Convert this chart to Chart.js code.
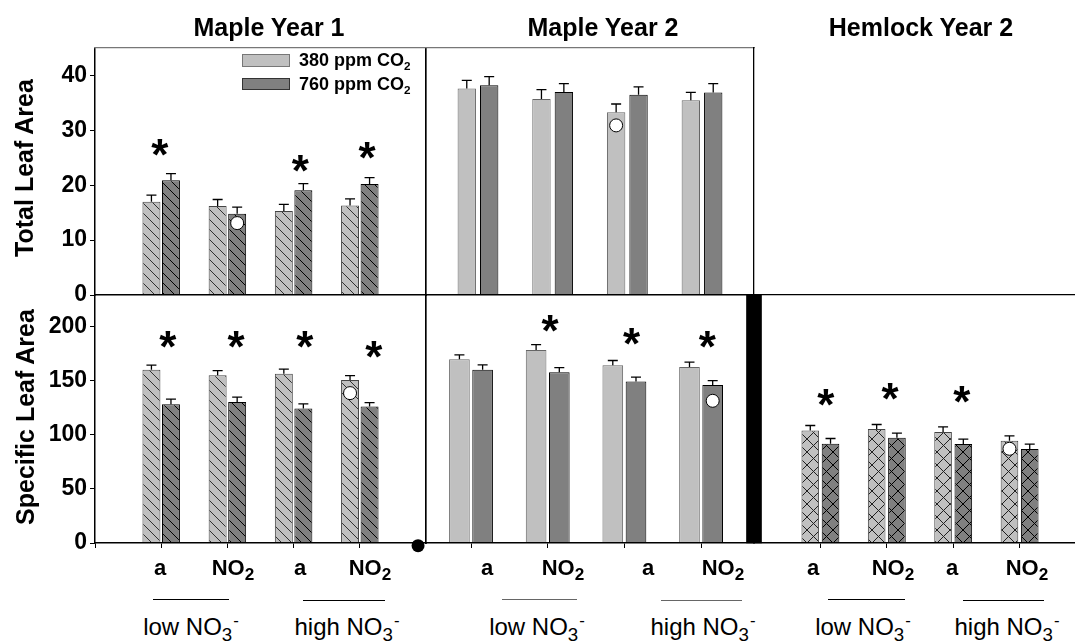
<!DOCTYPE html>
<html><head><meta charset="utf-8">
<script src="https://cdn.jsdelivr.net/npm/chart.js@4.4.0/dist/chart.umd.min.js"></script>
<style>
html,body{margin:0;padding:0;background:#fff;overflow:hidden;}
#stage{position:relative;width:1075px;height:642px;overflow:hidden;font-family:'Liberation Sans',Arial,sans-serif;color:#000;}
#stage canvas{position:absolute;}
.t{position:absolute;transform:translate(-50%,-50%);white-space:nowrap;line-height:1;}
.title{font-weight:bold;font-size:25px;}
.ytitle{font-weight:bold;font-size:25px;transform:translate(-50%,-50%) rotate(-90deg);}
.xa{font-weight:bold;font-size:22px;}
.xn{font-size:24px;}
.sub{position:relative;top:.32em;font-size:.78em;}
.sub2{position:relative;top:.3em;font-size:.65em;}
.sup{position:relative;top:-.55em;font-size:.7em;margin-left:1px;}
.hl{position:absolute;height:0;border-top:1.5px solid #000;}
.lg{position:absolute;font-weight:bold;font-size:18px;line-height:1;transform:translateY(-50%);white-space:nowrap;}
.sw{position:absolute;box-sizing:border-box;border:1px solid;}
</style></head><body><div id="stage"></div>
<script>
// ---------------- data ----------------
const groups = [1, 2, 3, 4];
const tlaTicks = [0, 10, 20, 30, 40];
const slaTicks = [0, 50, 100, 150, 200];
const tlaMax = 45;
const slaMax = 229;
const seriesNames = ['380 ppm CO', '760 ppm CO'];
const panelTitles = ['Maple Year 1', 'Maple Year 2', 'Hemlock Year 2'];
const yTitles = ['Total Leaf Area', 'Specific Leaf Area'];

// Maple Year 1 - Total leaf area
const m1TlaAmb = [17.0, 16.2, 15.3, 16.3];
const m1TlaAmbErr = [1.2, 1.2, 1.2, 1.2];
const m1TlaElev = [20.9, 14.8, 19.1, 20.2];
const m1TlaElevErr = [1.2, 1.2, 1.2, 1.2];
const m1TlaStars = [{x: 0.98, y: 26.9}, {x: 3.10, y: 24.0}, {x: 4.11, y: 26.4}];
const m1TlaCircles = [{g: 2, s: 1, y: 13.1}];

// Maple Year 1 - Specific leaf area
const m1SlaAmb = [159.9, 155.0, 156.2, 150.6];
const m1SlaAmbErr = [4.3, 4.2, 4.3, 4.0];
const m1SlaElev = [128.2, 130.1, 124.2, 126.0];
const m1SlaElevErr = [4.6, 4.6, 4.3, 3.7];
const m1SlaStars = [{x: 1.10, y: 188}, {x: 2.13, y: 188}, {x: 3.17, y: 188}, {x: 4.21, y: 179}];
const m1SlaCircles = [{g: 4, s: -1, y: 138.4}];
const m1SlaDot = [{x: 4.88, y: -2.5}];

// Maple Year 2 - Total leaf area
const m2TlaAmb = [37.6, 35.7, 33.3, 35.5];
const m2TlaAmbErr = [1.5, 1.7, 1.5, 1.4];
const m2TlaElev = [38.2, 37.0, 36.5, 36.9];
const m2TlaElevErr = [1.6, 1.5, 1.4, 1.6];
const m2TlaCircles = [{g: 3, s: -1, y: 30.9}];

// Maple Year 2 - Specific leaf area
const m2SlaAmb = [169.7, 178.3, 164.2, 162.6];
const m2SlaAmbErr = [4.0, 4.9, 4.3, 4.4];
const m2SlaElev = [159.9, 157.7, 149.1, 145.8];
const m2SlaElevErr = [4.6, 4.3, 4.0, 4.2];
const m2SlaStars = [{x: 2.03, y: 203}, {x: 3.095, y: 191}, {x: 4.08, y: 187.5}];
const m2SlaCircles = [{g: 4, s: 1, y: 131.3}];

// Hemlock Year 2 - Specific leaf area
const hSlaAmb = [103.9, 105.2, 102.4, 94.4];
const hSlaAmbErr = [4.6, 4.2, 4.9, 4.6];
const hSlaElev = [91.6, 97.1, 91.3, 86.7];
const hSlaElevErr = [4.9, 4.3, 4.6, 4.6];
const hSlaStars = [{x: 1.08, y: 134.7}, {x: 2.05, y: 139.9}, {x: 3.13, y: 137.5}];
const hSlaCircles = [{g: 4, s: -1, y: 87}];

const xLabelA = 'a';
const xLabelN = 'NO';
const nitrateLabels = ['low NO', 'high NO'];

// ---------------- drawing ----------------
const FONT = "'Liberation Sans', Arial, sans-serif";
const LIGHT = '#c0c0c0', DARK = '#808080';
const stage = document.getElementById('stage');

function pattern(ctx, bg, fg, size, cross) {
  const c = document.createElement('canvas');
  c.width = c.height = size;
  const g = c.getContext('2d');
  g.fillStyle = bg; g.fillRect(0, 0, size, size);
  g.strokeStyle = fg; g.lineWidth = 1;
  g.beginPath();
  g.moveTo(-2, -2); g.lineTo(size + 2, size + 2);
  g.moveTo(-2, size - 2); g.lineTo(2, size + 2);
  g.moveTo(size - 2, -2); g.lineTo(size + 2, 2);
  if (cross) {
    g.moveTo(size + 2, -2); g.lineTo(-2, size + 2);
    g.moveTo(-2, 2); g.lineTo(2, -2);
    g.moveTo(size - 2, size + 2); g.lineTo(size + 2, size - 2);
  }
  g.stroke();
  return ctx.createPattern(c, 'repeat');
}

const zeroFit = s => { if (s.isHorizontal()) s.height = 0; else s.width = 0; };

const errPlugin = {
  id: 'errbars',
  afterDatasetsDraw(chart) {
    const ctx = chart.ctx, ys = chart.scales.y;
    chart.data.datasets.forEach((ds, di) => {
      if (!ds.errors) return;
      const meta = chart.getDatasetMeta(di);
      meta.data.forEach((el, i) => {
        const yt = ys.getPixelForValue(ds.data[i].y + ds.errors[i]);
        ctx.save();
        ctx.strokeStyle = '#000'; ctx.lineWidth = 1.3;
        ctx.beginPath();
        ctx.moveTo(el.x, el.y); ctx.lineTo(el.x, yt);
        ctx.moveTo(el.x - 5, yt); ctx.lineTo(el.x + 5, yt);
        ctx.stroke();
        ctx.restore();
      });
    });
  }
};

function starPlugin(pts) {
  return {
    id: 'stars',
    afterDraw(chart) {
      if (!pts || !pts.length) return;
      const ctx = chart.ctx, xs = chart.scales.x, ys = chart.scales.y;
      ctx.save();
      ctx.fillStyle = '#000';
      ctx.font = 'bold 44px ' + FONT;
      ctx.textAlign = 'center';
      ctx.textBaseline = 'alphabetic';
      const m = ctx.measureText('*');
      const off = (m.actualBoundingBoxAscent - m.actualBoundingBoxDescent) / 2;
      pts.forEach(p => ctx.fillText('*', xs.getPixelForValue(p.x), ys.getPixelForValue(p.y) + off));
      ctx.restore();
    }
  };
}

function panel(o) {
  const pad = Object.assign({l: 12, r: 12, t: 12, b: 12}, o.pad || {});
  const a = o.area;
  const w = a.r - a.l + pad.l + pad.r, h = a.b - a.t + pad.t + pad.b;
  const cv = document.createElement('canvas');
  cv.width = w; cv.height = h;
  cv.style.left = (a.l - pad.l) + 'px';
  cv.style.top = (a.t - pad.t) + 'px';
  cv.style.width = w + 'px'; cv.style.height = h + 'px';
  stage.appendChild(cv);
  const ctx = cv.getContext('2d');
  let fillA, fillE;
  if (o.hatch === 'diag') {
    fillA = pattern(ctx, LIGHT, '#303030', 10, false);
    fillE = pattern(ctx, DARK, '#000', 10, false);
  } else if (o.hatch === 'cross') {
    fillA = pattern(ctx, LIGHT, '#202020', 13, true);
    fillE = pattern(ctx, DARK, '#000', 13, true);
  } else { fillA = LIGHT; fillE = DARK; }
  const off = o.cat / 4;
  const datasets = [
    {type: 'bar', label: seriesNames[0], data: groups.map((g, i) => ({x: g, y: o.amb[i]})), errors: o.ambErr,
     backgroundColor: fillA, borderColor: o.ambBorder || '#444', borderWidth: 1,
     categoryPercentage: o.cat, barPercentage: o.bar},
    {type: 'bar', label: seriesNames[1], data: groups.map((g, i) => ({x: g, y: o.elev[i]})), errors: o.elevErr,
     backgroundColor: fillE, borderColor: '#000', borderWidth: 1,
     categoryPercentage: o.cat, barPercentage: o.bar},
  ];
  if (o.circles) datasets.push({type: 'scatter', order: -2, data: o.circles.map(c => ({x: c.g + c.s * off, y: c.y})),
    pointRadius: 6.5, pointBackgroundColor: '#fff', pointBorderColor: '#000', pointBorderWidth: 1, pointHoverRadius: 6.5});
  if (o.dot) datasets.push({type: 'scatter', order: -1, clip: false, data: o.dot,
    pointRadius: 6.5, pointBackgroundColor: '#000', pointBorderColor: '#000', pointBorderWidth: 0});
  if (o.separator) datasets.push({type: 'bar', grouped: false, clip: false, barThickness: 15,
    data: [{x: o.xMin, y: o.yMax}], backgroundColor: '#000', borderWidth: 0});

  const hidden = (pos, axis, show, color) => ({
    type: 'linear', axis: axis, position: pos, min: 0, max: 1, offset: false, afterFit: zeroFit,
    ticks: {display: false}, grid: {display: false, offset: false},
    border: {display: show, color: color || '#000', width: 1.3, z: 1}
  });
  const yFit = o.yLabels ? (s => { s.width = pad.l; }) : zeroFit;

  new Chart(cv, {
    data: {datasets},
    plugins: [errPlugin, starPlugin(o.stars)],
    options: {
      responsive: false, animation: false, events: [],
      layout: {padding: {left: o.yLabels ? 0 : pad.l, right: pad.r, top: pad.t, bottom: pad.b}},
      plugins: {legend: {display: false}, tooltip: {enabled: false}},
      scales: {
        x: {type: 'linear', position: 'bottom', min: o.xMin, max: o.xMax, offset: false, afterFit: zeroFit,
            afterBuildTicks: s => { s.ticks = (o.xMarks || groups).map(v => ({value: v})); },
            ticks: {display: false},
            grid: {display: !!o.xMarks, offset: false, drawOnChartArea: false, drawTicks: true, tickLength: 5, color: '#000', lineWidth: 1},
            border: {display: true, color: '#000', width: 1.5, z: 1}},
        y: {type: 'linear', position: 'left', min: 0, max: o.yMax, offset: false, afterFit: yFit,
            afterBuildTicks: s => { s.ticks = o.yTicks.map(v => ({value: v})); },
            ticks: {display: !!o.yLabels, autoSkip: false, color: '#000', padding: 3, font: {family: FONT, size: 23, weight: 'bold'}},
            grid: {display: !!o.yLabels, offset: false, drawOnChartArea: false, drawTicks: true, tickLength: 5, color: '#000'},
            border: {display: o.leftBorder !== false, color: '#000', width: 1.5, z: 1}},
        xTop: hidden('top', 'x', !!o.topBorder, o.topBorder),
        yRight: hidden('right', 'y', !!o.rightBorder, o.rightBorder)
      }
    }
  });
}

// Maple Year 1, total leaf area
panel({area: {l: 95, r: 426, t: 48, b: 295}, pad: {l: 95, t: 48, b: 24},
  xMin: 0, xMax: 5, yMax: tlaMax, yTicks: tlaTicks, yLabels: true,
  amb: m1TlaAmb, ambErr: m1TlaAmbErr, elev: m1TlaElev, elevErr: m1TlaElevErr,
  cat: 0.59, bar: 0.92, hatch: 'diag', stars: m1TlaStars, circles: m1TlaCircles,
  topBorder: '#777', rightBorder: '#000'});
// Maple Year 1, specific leaf area
panel({area: {l: 95, r: 426, t: 295, b: 543}, pad: {l: 95, t: 24, b: 24},
  xMin: 0, xMax: 5, xMarks: [0, 1, 2, 3, 4], yMax: slaMax, yTicks: slaTicks, yLabels: true,
  amb: m1SlaAmb, ambErr: m1SlaAmbErr, elev: m1SlaElev, elevErr: m1SlaElevErr,
  cat: 0.59, bar: 0.92, hatch: 'diag', stars: m1SlaStars, circles: m1SlaCircles, dot: m1SlaDot,
  rightBorder: '#000'});
// Maple Year 2, total leaf area
panel({area: {l: 426, r: 754, t: 48, b: 295},
  xMin: 0.304, xMax: 4.696, yMax: tlaMax, yTicks: tlaTicks, yLabels: false,
  amb: m2TlaAmb, ambErr: m2TlaAmbErr, elev: m2TlaElev, elevErr: m2TlaElevErr, ambBorder: '#666',
  cat: 0.60, bar: 0.82, hatch: 'none', circles: m2TlaCircles,
  topBorder: '#777', rightBorder: '#000'});
// Maple Year 2, specific leaf area
panel({area: {l: 426, r: 754, t: 295, b: 543},
  xMin: 0.413, xMax: 4.69, xMarks: groups, yMax: slaMax, yTicks: slaTicks, yLabels: false,
  amb: m2SlaAmb, ambErr: m2SlaAmbErr, elev: m2SlaElev, elevErr: m2SlaElevErr, ambBorder: '#666',
  cat: 0.605, bar: 0.89, hatch: 'none', stars: m2SlaStars, circles: m2SlaCircles});
// Hemlock Year 2, specific leaf area
panel({area: {l: 754, r: 1086, t: 295, b: 543},
  xMin: 0, xMax: 5, xMarks: groups, yMax: slaMax, yTicks: slaTicks, yLabels: false, leftBorder: false,
  amb: hSlaAmb, ambErr: hSlaAmbErr, elev: hSlaElev, elevErr: hSlaElevErr,
  cat: 0.61, bar: 0.87, hatch: 'cross', stars: hSlaStars, circles: hSlaCircles,
  topBorder: '#000', separator: true});

// ---------------- text ----------------
function txt(cls, html, x, y) {
  const d = document.createElement('div');
  d.className = 't ' + cls; d.innerHTML = html;
  d.style.left = x + 'px'; d.style.top = y + 'px';
  stage.appendChild(d);
  return d;
}
txt('title', panelTitles[0], 269, 27);
txt('title', panelTitles[1], 603, 27);
txt('title', panelTitles[2], 921, 27);
txt('ytitle', yTitles[0], 24, 168);
txt('ytitle', yTitles[1], 25, 417);

// legend
[[seriesNames[0], LIGHT, '#777', 54, 60], [seriesNames[1], DARK, '#333', 77.5, 84]].forEach(([name, fill, bd, top, cy]) => {
  const s = document.createElement('div');
  s.className = 'sw';
  Object.assign(s.style, {left: '242px', top: top + 'px', width: '48px', height: '12.5px', background: fill, borderColor: bd});
  stage.appendChild(s);
  const l = document.createElement('div');
  l.className = 'lg';
  l.innerHTML = name + '<span class="sub2">2</span>';
  l.style.left = '299px'; l.style.top = cy + 'px';
  stage.appendChild(l);
});

// x category labels
const aPos = [160, 300, 487, 648, 813, 952];
const nPos = [233, 370, 563, 723, 893, 1027];
aPos.forEach(x => txt('xa', xLabelA, x, 568));
nPos.forEach(x => txt('xa', xLabelN + '<span class="sub">2</span>', x, 568));
const lines = [[153, 229, '#000'], [303, 385, '#000'], [502, 577, '#666'], [661, 742, '#666'], [828, 905, '#000'], [963, 1044, '#000']];
lines.forEach(([x1, x2, c], i) => {
  const d = document.createElement('div');
  d.className = 'hl';
  Object.assign(d.style, {left: x1 + 'px', width: (x2 - x1) + 'px', top: (599 + (i % 2)) + 'px', borderTopColor: c});
  stage.appendChild(d);
});
const nitPos = [191, 347, 537, 703, 863, 1007];
nitPos.forEach((x, i) => txt('xn', nitrateLabels[i % 2] + '<span class="sub">3</span><span class="sup">-</span>', x, 627));
</script>
</body></html>
